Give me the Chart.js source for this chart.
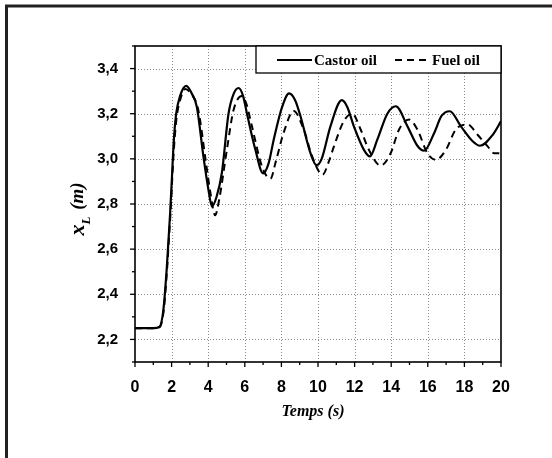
<!DOCTYPE html>
<html>
<head>
<meta charset="utf-8">
<script src="https://cdn.jsdelivr.net/npm/chart.js@4"></script>
<style>
  html, body { margin: 0; padding: 0; background: #fff; }
  #wrap { width: 552px; height: 458px; }
</style>
</head>
<body>
<div id="wrap"><canvas id="chart" width="552" height="458"></canvas></div>
<script>
// valeurs
const seriesNames = ['Castor oil', 'Fuel oil'];

const castorT = [0, 1.0, 1.33, 1.55, 1.74, 1.83, 1.92, 2.02, 2.12, 2.25, 2.47, 2.8, 3.1, 3.38, 3.74, 4.02, 4.2, 4.45, 4.75, 5.11, 5.4, 5.66, 5.9, 6.12, 6.58, 7.0, 7.3, 7.58, 8.04, 8.42, 8.75, 9.04, 9.59, 9.92, 10.2, 10.68, 11.3, 11.6, 11.96, 12.51, 12.84, 13.24, 13.79, 14.25, 14.89, 15.43, 15.8, 16.35, 16.75, 17.2, 17.81, 18.45, 18.85, 19.55, 20];
const castorX = [2.25, 2.25, 2.255, 2.33, 2.52, 2.64, 2.76, 2.92, 3.08, 3.2, 3.28, 3.323, 3.29, 3.23, 3.01, 2.86, 2.79, 2.83, 2.94, 3.2, 3.29, 3.314, 3.28, 3.2, 3.04, 2.936, 2.98, 3.085, 3.23, 3.29, 3.26, 3.19, 3.025, 2.972, 3.0, 3.144, 3.26, 3.23, 3.144, 3.04, 3.011, 3.085, 3.2, 3.233, 3.144, 3.058, 3.036, 3.115, 3.19, 3.211, 3.144, 3.078, 3.058, 3.107, 3.167];

const fuelT = [0, 1.0, 1.35, 1.57, 1.76, 1.85, 1.94, 2.04, 2.14, 2.27, 2.5, 2.75, 3.05, 3.45, 3.85, 4.1, 4.38, 4.6, 5.02, 5.39, 5.85, 6.1, 6.39, 6.94, 7.4, 7.7, 8.12, 8.67, 9.22, 9.68, 10.25, 10.6, 10.87, 11.41, 11.87, 12.33, 12.78, 13.42, 13.97, 14.43, 14.98, 15.43, 15.98, 16.44, 16.99, 17.53, 18.17, 18.72, 19.27, 19.63, 20];
const fuelX = [2.25, 2.25, 2.255, 2.33, 2.52, 2.64, 2.76, 2.92, 3.06, 3.18, 3.27, 3.31, 3.29, 3.22, 3.0, 2.86, 2.75, 2.82, 3.04, 3.218, 3.278, 3.24, 3.144, 2.966, 2.912, 2.99, 3.115, 3.212, 3.13, 3.011, 2.93, 2.99, 3.055, 3.167, 3.2, 3.13, 3.04, 2.97, 3.025, 3.13, 3.174, 3.13, 3.025, 2.996, 3.04, 3.13, 3.152, 3.107, 3.055, 3.025, 3.025];

const xTicks = [0, 2, 4, 6, 8, 10, 12, 14, 16, 18, 20];
const xMinor = [1, 3, 5, 7, 9, 11, 13, 15, 17, 19];
const yTicks = [2.2, 2.4, 2.6, 2.8, 3.0, 3.2, 3.4];
const yMinor = [2.1, 2.3, 2.5, 2.7, 2.9, 3.1, 3.3, 3.5];

const toPoints = (ts, vs) => ts.map((t, i) => ({x: t, y: vs[i]}));

// cadre, grille, graduations, titres, légende
const decor = {
    id: 'decor',
    beforeDraw(chart) {
        const ctx = chart.ctx;
        ctx.save();
        ctx.fillStyle = '#fff';
        ctx.fillRect(0, 0, chart.width, chart.height);
        // cadre extérieur
        ctx.strokeStyle = '#222';
        ctx.lineWidth = 3;
        ctx.beginPath();
        ctx.moveTo(6.5, chart.height);
        ctx.lineTo(6.5, 6);
        ctx.lineTo(chart.width, 6);
        ctx.stroke();
        ctx.restore();
    },
    beforeDatasetsDraw(chart) {
        const ctx = chart.ctx;
        const a = chart.chartArea;
        const xs = chart.scales.x, ys = chart.scales.y;
        ctx.save();
        // grille pointillée
        ctx.strokeStyle = '#8a8a8a';
        ctx.lineWidth = 1;
        ctx.setLineDash([1, 2]);
        xTicks.slice(1, -1).forEach(v => {
            const px = Math.round(xs.getPixelForValue(v)) + 0.5;
            ctx.beginPath(); ctx.moveTo(px, a.top); ctx.lineTo(px, a.bottom); ctx.stroke();
        });
        yTicks.forEach(v => {
            const py = Math.round(ys.getPixelForValue(v)) + 0.5;
            ctx.beginPath(); ctx.moveTo(a.left, py); ctx.lineTo(a.right, py); ctx.stroke();
        });
        ctx.setLineDash([]);
        ctx.restore();
    },
    afterDatasetsDraw(chart) {
        const ctx = chart.ctx;
        const a = chart.chartArea;
        const xs = chart.scales.x, ys = chart.scales.y;
        ctx.save();
        ctx.strokeStyle = '#000';
        ctx.lineWidth = 1.6;
        ctx.strokeRect(a.left, a.top, a.right - a.left, a.bottom - a.top);
        // graduations vers l'extérieur
        ctx.lineWidth = 1.3;
        xTicks.forEach(v => {
            const px = xs.getPixelForValue(v);
            ctx.beginPath(); ctx.moveTo(px, a.bottom); ctx.lineTo(px, a.bottom + 5); ctx.stroke();
        });
        xMinor.forEach(v => {
            const px = xs.getPixelForValue(v);
            ctx.beginPath(); ctx.moveTo(px, a.bottom); ctx.lineTo(px, a.bottom + 3); ctx.stroke();
        });
        yTicks.forEach(v => {
            const py = ys.getPixelForValue(v);
            ctx.beginPath(); ctx.moveTo(a.left, py); ctx.lineTo(a.left - 5, py); ctx.stroke();
        });
        yMinor.forEach(v => {
            const py = ys.getPixelForValue(v);
            ctx.beginPath(); ctx.moveTo(a.left, py); ctx.lineTo(a.left - 3, py); ctx.stroke();
        });

        // légende encadrée
        const lx = a.right - 245, ly = a.top, lw = 245, lh = 27;
        ctx.fillStyle = '#fff';
        ctx.fillRect(lx, ly, lw, lh);
        ctx.lineWidth = 1.3;
        ctx.strokeRect(lx, ly, lw, lh);
        const ds = chart.data.datasets;
        const my = ly + 14;
        ctx.font = 'bold 15px "Liberation Serif", "DejaVu Serif", serif';
        ctx.fillStyle = '#000';
        ctx.textBaseline = 'middle';
        ctx.lineWidth = 2;
        ctx.setLineDash(ds[0].borderDash || []);
        ctx.beginPath(); ctx.moveTo(lx + 21, my); ctx.lineTo(lx + 56, my); ctx.stroke();
        ctx.fillText(ds[0].label, lx + 58, my + 1);
        ctx.setLineDash(ds[1].borderDash || []);
        ctx.beginPath(); ctx.moveTo(lx + 139, my); ctx.lineTo(lx + 173, my); ctx.stroke();
        ctx.setLineDash([]);
        ctx.fillText(ds[1].label, lx + 176, my + 1);

        // titre axe x
        ctx.textAlign = 'center';
        ctx.textBaseline = 'alphabetic';
        ctx.font = 'italic bold 16px "Liberation Serif", "DejaVu Serif", serif';
        ctx.fillText('Temps (s)', (a.left + a.right) / 2 - 5, 416);

        // titre axe y : x_L (m)
        ctx.translate(84, 210);
        ctx.rotate(-Math.PI / 2);
        ctx.textAlign = 'left';
        const big = 'italic bold 22px "Liberation Serif", "DejaVu Serif", serif';
        const sub = 'italic bold 13px "Liberation Serif", "DejaVu Serif", serif';
        const par = 'italic bold 19px "Liberation Serif", "DejaVu Serif", serif';
        ctx.font = big;
        const w1 = ctx.measureText('x').width;
        ctx.font = sub;
        const w2 = ctx.measureText('L').width;
        ctx.font = par;
        const w3 = ctx.measureText(' (m)').width;
        let x0 = -(w1 + w2 + w3) / 2;
        ctx.font = big; ctx.fillText('x', x0, 0); x0 += w1;
        ctx.font = sub; ctx.fillText('L', x0, 6); x0 += w2;
        ctx.font = par; ctx.fillText(' (m)', x0 + 2, -1);
        ctx.restore();
    }
};

const ctx = document.getElementById('chart').getContext('2d');
new Chart(ctx, {
    type: 'line',
    data: {
        datasets: [{
            label: seriesNames[0],
            data: toPoints(castorT, castorX),
            borderColor: '#000',
            borderWidth: 2.2,
            pointRadius: 0,
            cubicInterpolationMode: 'monotone'
        }, {
            label: seriesNames[1],
            data: toPoints(fuelT, fuelX),
            borderColor: '#000',
            borderWidth: 2,
            borderDash: [7, 5],
            pointRadius: 0,
            cubicInterpolationMode: 'monotone'
        }]
    },
    options: {
        responsive: false,
        animation: false,
        layout: { padding: { top: 46, right: 51, left: 0, bottom: 0 } },
        scales: {
            x: {
                type: 'linear',
                min: 0,
                max: 20,
                afterBuildTicks: s => { s.ticks = xTicks.map(v => ({value: v})); },
                afterFit: s => { s.height = 96; },
                grid: { display: false },
                border: { display: false },
                ticks: {
                    padding: 8,
                    color: '#000',
                    font: { family: '"Liberation Sans", Arial, sans-serif', size: 16, weight: 'bold' },
                    maxRotation: 0
                }
            },
            y: {
                min: 2.1,
                max: 3.5,
                afterBuildTicks: s => { s.ticks = yTicks.map(v => ({value: v})); },
                afterFit: s => { s.width = 135; },
                grid: { display: false },
                border: { display: false },
                ticks: {
                    padding: 9,
                    color: '#000',
                    font: { family: '"Liberation Sans", Arial, sans-serif', size: 15, weight: 'bold' },
                    callback: v => v.toFixed(1).replace('.', ',')
                }
            }
        },
        plugins: {
            legend: { display: false },
            tooltip: { enabled: false }
        }
    },
    plugins: [decor]
});
</script>
</body>
</html>
